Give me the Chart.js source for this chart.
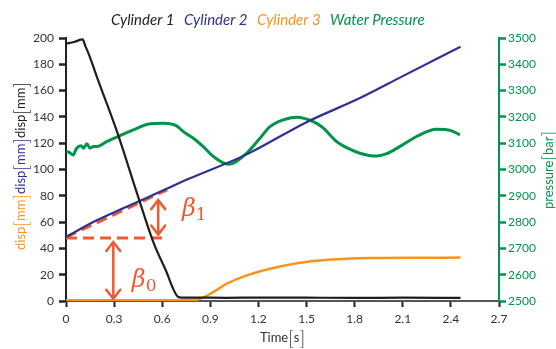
<!DOCTYPE html>
<html>
<head>
<meta charset="utf-8">
<script src="https://cdn.jsdelivr.net/npm/chart.js@4.4.0/dist/chart.umd.min.js"></script>
<style>
html, body { margin: 0; padding: 0; background: #fff; }
</style>
</head>
<body>
<canvas id="myChart" width="556" height="349"></canvas>
<script>
// values
let cyl1T = [0, 0.05, 0.104, 0.12, 0.139, 0.2, 0.326, 0.44, 0.544, 0.62, 0.70, 0.72, 0.8, 1.0, 1.2, 1.5, 1.8, 2.1, 2.46];
let cyl1  = [195.6, 197, 198.9, 194, 188.7, 168, 126, 83, 45, 24, 3, 2.5, 2.6, 2.4, 2.6, 2.5, 2.4, 2.5, 2.4];

let cyl2T = [0, 0.17, 0.378, 0.586, 0.773, 1.127, 1.5, 1.833, 2.1, 2.46];
let cyl2  = [48.7, 60, 71.6, 83, 93.3, 111.5, 136, 154.3, 171, 193.3];

let cyl3T = [0, 0.3, 0.6, 0.75, 0.815, 0.918, 1.0, 1.127, 1.334, 1.542, 1.75, 1.958, 2.2, 2.46];
let cyl3  = [0.5, 0.5, 0.5, 0.6, 1, 6.7, 13, 19.5, 26.3, 30.4, 32.2, 32.7, 32.9, 33];

let presT = [0, 0.02, 0.045, 0.065, 0.095, 0.11, 0.13, 0.15, 0.17, 0.19, 0.254, 0.316, 0.42, 0.524, 0.607,
             0.69, 0.72, 0.76, 0.794, 0.856, 0.918, 1.012, 1.127, 1.2, 1.272, 1.35, 1.438, 1.542, 1.6,
             1.688, 1.76, 1.833, 1.937, 2.0, 2.08, 2.2, 2.31, 2.4, 2.456];
let pres  = [3068, 3065, 3055, 3080, 3090, 3081, 3098, 3081, 3087, 3087, 3106, 3123, 3151, 3174, 3176,
             3166, 3150, 3132, 3119, 3087, 3050, 3020, 3062, 3112, 3163, 3188, 3199, 3182, 3160,
             3106, 3080, 3062, 3051, 3060, 3087, 3130, 3153, 3148, 3132];

// fit lines (red dashes)
let slopeT = [0, 0.63];
let slopeY = [48.5, 84.5];
let baseT  = [0, 0.63];
let baseY  = [48, 48];

// beta arrows and labels
let arrowT    = [0.575, 0.295];
let arrowFrom = [50.5, 1.7];
let arrowTo   = [76.7, 44.9];
let betaT     = [0.723, 0.41];
let betaY     = [65, 11];
let betaSub   = ['1', '0'];

let legendNames = ['Cylinder 1', 'Cylinder 2', 'Cylinder 3', 'Water Pressure'];
let colBlack = '#1e1e1e', colBlue = '#2e3192', colOrange = '#f7941d', colGreen = '#00934a', colRed = '#f15a30';

function pts(xs, ys)
{
    return xs.map((x, i) => ({x: x, y: ys[i]}));
}

function drawSegs(ctx, segs, cx, cy, rot)
{
    ctx.save();
    ctx.translate(cx, cy);
    ctx.rotate(rot);
    let total = 0;
    segs.forEach(s => { ctx.font = s.font; total += ctx.measureText(s.text).width; });
    let x = -total / 2;
    ctx.textBaseline = 'alphabetic';
    ctx.textAlign = 'left';
    segs.forEach(s => {
        ctx.font = s.font;
        ctx.fillStyle = s.color;
        ctx.fillText(s.text, x, s.dy || 0);
        x += ctx.measureText(s.text).width;
    });
    ctx.restore();
}

function unitSegs(name, unit, color)
{
    let f = '13px Lato', b = '300 19px Lato';
    return [
        {text: name, font: f, color: color},
        {text: '[', font: b, color: color, dy: 3},
        {text: unit, font: f, color: color},
        {text: ']', font: b, color: color, dy: 3}
    ];
}

const annot = {
    id: 'annot',
    afterLayout(chart) {
        // legend sits a little left of centre in the original
        if (chart.legend) { chart.legend.left -= 14; chart.legend.right -= 14; }
    },
    afterDatasetsDraw(chart) {
        let ctx = chart.ctx, xs = chart.scales.x, ys = chart.scales.y;
        ctx.save();
        ctx.strokeStyle = colRed;
        ctx.fillStyle = colRed;
        ctx.lineWidth = 2.5;
        ctx.lineCap = 'round';
        for (let i = 0; i < arrowT.length; ++i)
        {
            let x = xs.getPixelForValue(arrowT[i]);
            let y0 = ys.getPixelForValue(arrowFrom[i]);
            let y1 = ys.getPixelForValue(arrowTo[i]);
            ctx.beginPath();
            ctx.moveTo(x, y0); ctx.lineTo(x, y1);
            ctx.moveTo(x - 7, y1 + 9); ctx.lineTo(x, y1); ctx.lineTo(x + 7, y1 + 9);
            ctx.moveTo(x - 7, y0 - 9); ctx.lineTo(x, y0); ctx.lineTo(x + 7, y0 - 9);
            ctx.stroke();
        }
        for (let i = 0; i < betaT.length; ++i)
        {
            let x = xs.getPixelForValue(betaT[i]);
            let y = ys.getPixelForValue(betaY[i]);
            ctx.font = 'italic 24px "DejaVu Serif"';
            ctx.textBaseline = 'alphabetic';
            ctx.fillText('\u03b2', x, y);
            let w = ctx.measureText('\u03b2').width;
            ctx.font = '17px "DejaVu Serif"';
            ctx.fillText(betaSub[i], x + w, y + 4);
        }
        ctx.restore();
    },
    afterDraw(chart) {
        let ctx = chart.ctx, a = chart.chartArea;
        let left = unitSegs('disp', 'mm', colOrange)
            .concat(unitSegs('disp', 'mm', colBlue))
            .concat(unitSegs('disp', 'mm', colBlack));
        drawSegs(ctx, left, 25, 166, -Math.PI / 2);
        drawSegs(ctx, unitSegs('pressure', 'bar', colGreen), 553, 170, -Math.PI / 2);
        drawSegs(ctx, unitSegs('Time', 's', '#333'), (a.left + a.right) / 2, 342, 0);
    }
};

const datasets = [
    {label: legendNames[0], data: pts(cyl1T, cyl1), borderColor: colBlack, borderWidth: 2.2, yAxisID: 'y'},
    {label: legendNames[1], data: pts(cyl2T, cyl2), borderColor: colBlue, borderWidth: 2.2, yAxisID: 'y'},
    {label: legendNames[2], data: pts(cyl3T, cyl3), borderColor: colOrange, borderWidth: 2.5, yAxisID: 'y'},
    {label: legendNames[3], data: pts(presT, pres), borderColor: colGreen, borderWidth: 3, yAxisID: 'y2'},
    {label: 'fit', data: pts(slopeT, slopeY), borderColor: colRed, borderWidth: 3, borderDash: [11, 6], yAxisID: 'y'},
    {label: 'base', data: pts(baseT, baseY), borderColor: colRed, borderWidth: 3, borderDash: [11, 6], yAxisID: 'y'}
];
datasets.forEach(d => { d.showLine = true; d.pointRadius = 0; d.cubicInterpolationMode = 'monotone'; d.fill = false; });

const tickFont = {family: 'Lato', size: 12};

const config = {
    type: 'scatter',
    data: {datasets: datasets},
    options: {
        responsive: false,
        animation: false,
        devicePixelRatio: 1,
        layout: {padding: {top: 11, left: 0, right: 0, bottom: 0}},
        plugins: {
            tooltip: {enabled: false},
            legend: {
                display: true,
                position: 'top',
                labels: {
                    boxWidth: 0,
                    boxHeight: 0,
                    padding: 2,
                    font: {family: 'Lato', size: 15, style: 'italic'},
                    generateLabels: chart => chart.data.datasets.slice(0, 4).map((d, i) => ({
                        text: d.label,
                        fontColor: d.borderColor,
                        fillStyle: 'rgba(0,0,0,0)',
                        strokeStyle: 'rgba(0,0,0,0)',
                        lineWidth: 0,
                        hidden: false,
                        datasetIndex: i
                    }))
                }
            }
        },
        scales: {
            x: {
                type: 'linear', min: 0, max: 2.7,
                ticks: {stepSize: 0.3, font: tickFont, color: '#333', padding: 5,
                        callback: v => v === 0 ? '0' : v.toFixed(1)},
                grid: {drawOnChartArea: false, tickLength: 6, tickWidth: 2, tickColor: '#222'},
                border: {color: '#555', width: 2},
                afterFit: s => { s.height = 48; }
            },
            y: {
                position: 'left', min: 0, max: 200,
                ticks: {stepSize: 20, font: tickFont, color: '#333', padding: 5},
                grid: {drawOnChartArea: false, tickLength: 7, tickWidth: 2.5, tickColor: '#222'},
                border: {color: '#222', width: 2},
                afterFit: s => { s.width = 66; }
            },
            y2: {
                position: 'right', min: 2500, max: 3500,
                ticks: {stepSize: 100, font: tickFont, color: colGreen, padding: 2,
                        callback: v => String(v)},
                grid: {drawOnChartArea: false, tickLength: 7, tickWidth: 2.5, tickColor: colGreen},
                border: {color: colGreen, width: 2},
                afterFit: s => { s.width = 57; }
            }
        }
    },
    plugins: [annot]
};

const myChart = new Chart(document.getElementById('myChart'), config);
</script>
</body>
</html>
